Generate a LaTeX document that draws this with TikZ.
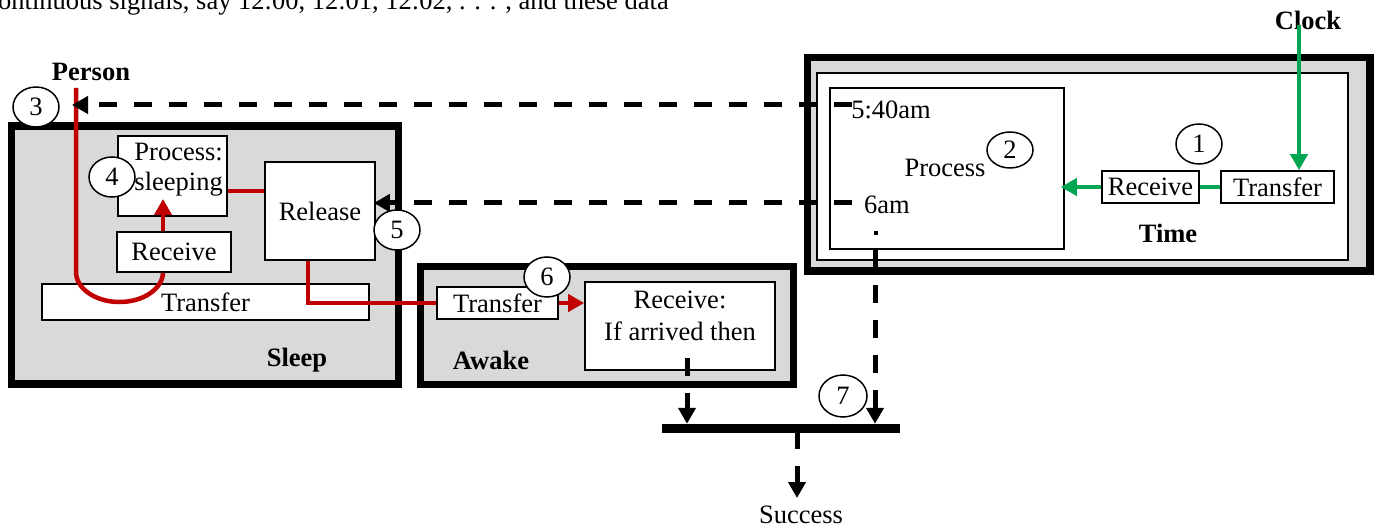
\documentclass[tikz,border=0pt]{standalone}
\usepackage{fontspec}
\setmainfont{Liberation Serif}
\usetikzlibrary{arrows.meta,shapes.geometric,calc}
\definecolor{boxgrey}{RGB}{217,217,217}
\definecolor{myred}{RGB}{192,0,0}
\definecolor{mygreen}{RGB}{0,166,81}
\begin{document}
\begin{tikzpicture}[x=1pt,y=-1pt,
  every node/.style={font=\fontsize{26.5}{30}\selectfont, inner sep=0pt},
  bigbox/.style={draw=black, line width=7.5pt, fill=boxgrey, rectangle},
  sbox/.style={draw=black, line width=1.6pt, fill=white, rectangle},
  num/.style={ellipse, draw=black, line width=1.5pt, fill=white, minimum width=46pt, minimum height=40pt},
  lab/.style={font=\fontsize{26.5}{30}\selectfont\bfseries},
  tip/.style={-{Triangle[length=16pt,width=17pt]}},
  dline/.style={draw=black, line width=5pt, dash pattern=on 18pt off 17pt},
  rline/.style={draw=myred, line width=4.5pt},
  gline/.style={draw=mygreen, line width=4.5pt},
]
\useasboundingbox (0,0) rectangle (1376,529);
\clip (0,0) rectangle (1376,529);

% cut-off text line at the top
\node[anchor=base west] (toptext) at (-2,10) {ontinuous signals, say 12:00, 12:01, 12:02, . . . , and these data};

% big boxes
\node[bigbox, minimum width=387pt, minimum height=258pt] (sleep) at (205,255) {};
\node[bigbox, minimum width=373pt, minimum height=118pt] (awake) at (607,325.5) {};
\node[bigbox, minimum width=562.5pt, minimum height=213.5pt] (time) at (1088.75,164.25) {};
\node[sbox, line width=2pt, minimum width=531pt, minimum height=187pt] (timein) at (1082.5,166.5) {};

% Sleep inner boxes
\node[sbox, minimum width=327pt, minimum height=36pt] (sTransfer) at (205.5,302) {Transfer};

% red U from Person into Receive
\coordinate (ptop) at (76,88);
\coordinate (ux) at (163,0);
\draw[rline] (ptop) -- (76,272) arc[start angle=180, end angle=360, x radius=43.5pt, y radius=30pt];

\node[sbox, minimum width=114pt, minimum height=40pt] (sReceive) at (174,252) {Receive};
\node[sbox, minimum width=109pt, minimum height=80pt] (sProc) at (172.5,176) {};
\node[anchor=east, align=right, font=\fontsize{26.5}{30}\selectfont] (sProcTxt) at (223,170) {Process:\\sleeping};
\node[sbox, minimum width=110pt, minimum height=98pt] (Release) at (320,211) {Release};

% Awake inner boxes
\node[sbox, minimum width=121pt, minimum height=32pt] (aTransfer) at (497.5,303) {Transfer};
\node[sbox, minimum width=190pt, minimum height=88pt] (aReceive) at (680,326) {};
\node[align=center, font=\fontsize{26.5}{32}\selectfont] (aReceiveTxt) at (680,316) {Receive:\\If arrived then};

% Time inner boxes
\node[sbox, minimum width=234pt, minimum height=161pt] (tProc) at (947,168.5) {};
\node (t540) at (891,110) {5:40am};
\node (tProcTxt) at (945,168) {Process};
\node (t6) at (887,205) {6am};
\node[fill=black, minimum size=4.5pt] (dot) at (876,233) {};
\node[sbox, minimum width=97pt, minimum height=32pt] (tReceive) at (1150.5,187) {Receive};
\node[sbox, minimum width=113pt, minimum height=32pt] (tTransfer) at (1277.5,187) {Transfer};

% labels
\node[lab] (person) at (91,72) {Person};
\node[lab] (clock) at (1308,20) {Clock};
\node[lab] (sleeplab) at (297,360) {Sleep};
\node[lab] (awakelab) at (491,360) {Awake};
\node[lab] (timelab) at (1168,233) {Time};
\node (success) at (801,515) {Success};

% join bar
\node[fill=black, minimum width=238pt, minimum height=9pt] (bar) at (781,428.5) {};

% red connectors
\coordinate (sIn) at (163,199);
\draw[rline, tip] (sReceive.north -| ux) -- (sIn);
\coordinate (ry) at (0,191);
\draw[rline] (sProc.east |- ry) -- (Release.west |- ry);
\coordinate (rx) at (308,0);
\draw[rline] (Release.south -| rx) |- (aTransfer.west);
\draw[rline, tip] (aTransfer.east) -- (aReceive.west |- aTransfer.east);

% green connectors
\coordinate (clk) at (1299,25);
\draw[gline, tip] (clk) -- (tTransfer.north -| clk);
\draw[gline] (tTransfer.west) -- (tReceive.east);
\draw[gline, tip, shorten >=-4pt] (tReceive.west) -- (tProc.east |- tReceive.west);

% black dashed connectors
\coordinate (d540) at (852,105);
\draw[dline, tip, shorten >=-4pt] (d540) -- (d540 -| ptop);
\coordinate (d6) at (852,203);
\draw[dline, tip, shorten >=-2pt] (d6) -- (d6 -| Release.east);
\coordinate (dv) at (875,250);
\draw[dline, tip] (dv) -- (bar.north -| dv);
\coordinate (dl) at (687,358);
\draw[dline, tip] (dl) -- (bar.north -| dl);
\coordinate (bx) at (797,0);
\coordinate (sTip) at (797,498);
\draw[dline, tip, dash pattern=on 16pt off 17pt] (bar.south -| bx) -- (sTip);

% numbered circles
\node[num] (n1) at (1199,144) {1};
\node[num, minimum height=36pt] (n2) at (1010,150) {2};
\node[num] (n3) at (36,107) {3};
\node[num] (n4) at (112,177) {4};
\node[num] (n5) at (397,230) {5};
\node[num] (n6) at (547,277) {6};
\node[num, minimum width=48pt, minimum height=42pt] (n7) at (843,396) {7};
\end{tikzpicture}
\end{document}
